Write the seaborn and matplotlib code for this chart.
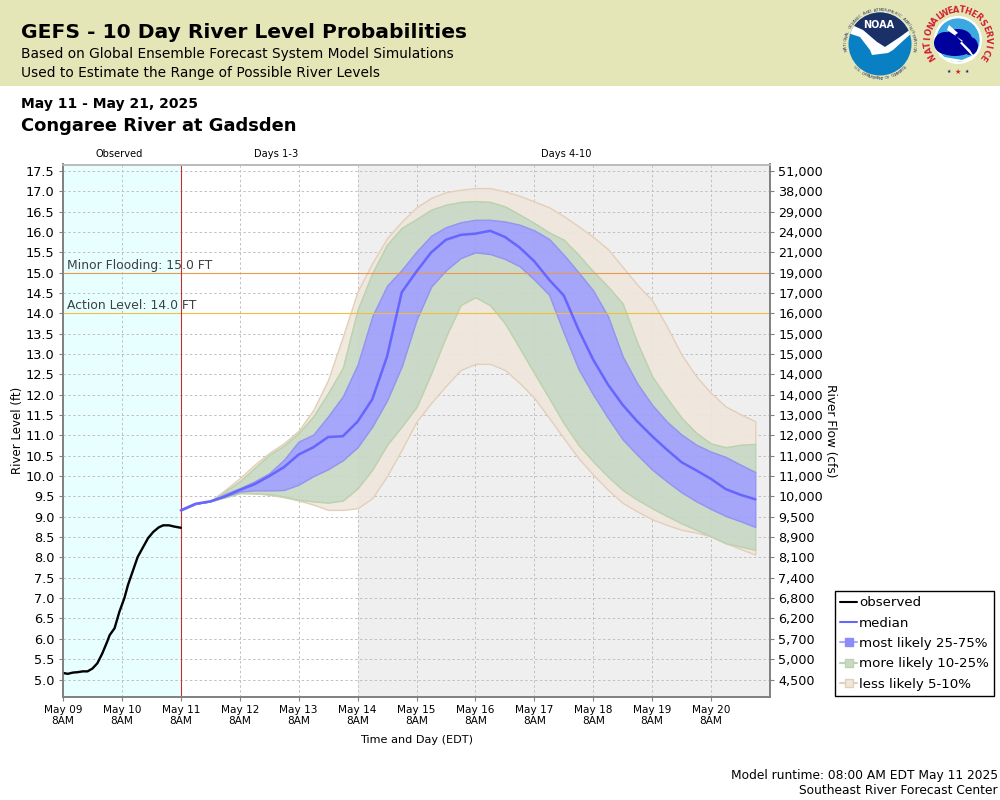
# GEFS river level probability plot - Congaree River at Gadsden

import numpy as np
import pandas as pd
import matplotlib
matplotlib.use('Agg')
import matplotlib.pyplot as plt
from matplotlib.colors import to_rgba
from matplotlib.lines import Line2D
from matplotlib.patches import Circle, Ellipse, Polygon, Rectangle
import seaborn as sns

# observed stage, hours after May 09 8AM
obsHours = [0, 1, 2, 4, 6, 8, 10, 12, 14, 16, 18, 19, 21, 23, 25, 26.5, 28.4, 30.4, 32.4, 34.7, 36.8, 39, 40.8, 43.2,
            45.3, 48]
obsLevel = [5.16, 5.15, 5.14, 5.17, 5.18, 5.20, 5.20, 5.27, 5.40, 5.64, 5.93, 6.09, 6.26, 6.67, 7.00, 7.33, 7.66,
            8.01, 8.23, 8.48, 8.63, 8.74, 8.79, 8.79, 8.76, 8.73]

# forecast stage every 6 hours from May 11 8AM
median = [9.16, 9.32, 9.38, 9.50, 9.66, 9.80, 10.00, 10.22, 10.53, 10.71, 10.96, 10.98, 11.34, 11.89, 12.94, 14.52,
          15.03, 15.50, 15.81, 15.93, 15.96, 16.03, 15.88, 15.62, 15.28, 14.83, 14.44, 13.60, 12.86, 12.25, 11.75,
          11.34, 10.98, 10.65, 10.34, 10.14, 9.93, 9.68, 9.54, 9.43]
p75 = [9.16, 9.32, 9.38, 9.56, 9.70, 9.87, 10.07, 10.40, 10.85, 11.02, 11.47, 11.96, 12.74, 13.93, 14.68, 15.07,
       15.52, 15.91, 16.12, 16.24, 16.30, 16.30, 16.26, 16.18, 16.04, 15.83, 15.44, 15.01, 14.56, 13.93, 12.94,
       12.27, 11.75, 11.34, 11.02, 10.77, 10.60, 10.47, 10.28, 10.10]
p25 = [9.16, 9.32, 9.38, 9.50, 9.62, 9.65, 9.65, 9.66, 9.79, 10.00, 10.17, 10.39, 10.71, 11.22, 11.86, 12.70,
       13.84, 14.66, 15.06, 15.36, 15.50, 15.46, 15.34, 15.16, 14.83, 14.46, 13.52, 12.63, 12.00, 11.43, 10.90,
       10.52, 10.16, 9.87, 9.60, 9.38, 9.19, 9.02, 8.89, 8.75]
p90 = [9.16, 9.32, 9.38, 9.62, 9.87, 10.20, 10.52, 10.75, 11.06, 11.47, 12.04, 12.66, 14.09, 14.99, 15.69, 16.10,
       16.32, 16.55, 16.67, 16.74, 16.76, 16.74, 16.63, 16.43, 16.22, 15.99, 15.81, 15.44, 15.03, 14.66, 14.24,
       13.27, 12.45, 11.92, 11.43, 11.06, 10.80, 10.71, 10.77, 10.79]
p10 = [9.16, 9.32, 9.38, 9.48, 9.58, 9.58, 9.56, 9.50, 9.42, 9.38, 9.35, 9.40, 9.70, 10.16, 10.77, 11.22, 11.70,
       12.53, 13.43, 14.21, 14.40, 14.20, 13.76, 13.15, 12.53, 11.92, 11.30, 10.77, 10.36, 9.99, 9.66, 9.42, 9.21,
       9.02, 8.84, 8.68, 8.52, 8.35, 8.27, 8.19]
p95 = [9.16, 9.32, 9.38, 9.66, 9.95, 10.28, 10.57, 10.81, 11.12, 11.63, 12.37, 13.43, 14.54, 15.24, 15.85, 16.26,
       16.61, 16.84, 16.98, 17.04, 17.08, 17.08, 17.00, 16.89, 16.75, 16.61, 16.39, 16.14, 15.88, 15.58, 15.14,
       14.70, 14.32, 13.68, 12.98, 12.45, 12.04, 11.71, 11.52, 11.35]
p5 = [9.16, 9.32, 9.38, 9.48, 9.60, 9.58, 9.54, 9.48, 9.40, 9.30, 9.17, 9.17, 9.21, 9.46, 10.00, 10.65, 11.34,
      11.80, 12.22, 12.61, 12.76, 12.76, 12.61, 12.29, 11.92, 11.43, 10.93, 10.44, 10.03, 9.66, 9.34, 9.13, 8.94,
      8.80, 8.68, 8.61, 8.52, 8.35, 8.21, 8.07]

# axis labels
stageTicks = [5.0, 5.5, 6.0, 6.5, 7.0, 7.5, 8.0, 8.5, 9.0, 9.5, 10.0, 10.5, 11.0, 11.5, 12.0, 12.5, 13.0, 13.5, 14.0,
              14.5, 15.0, 15.5, 16.0, 16.5, 17.0, 17.5]
flowLabels = ['4,500', '5,000', '5,700', '6,200', '6,800', '7,400', '8,100', '8,900', '9,500', '10,000', '11,000',
              '11,000', '12,000', '13,000', '14,000', '14,000', '15,000', '15,000', '16,000', '17,000', '19,000',
              '21,000', '24,000', '29,000', '38,000', '51,000']
dayLabels = ['May 09', 'May 10', 'May 11', 'May 12', 'May 13', 'May 14', 'May 15', 'May 16', 'May 17', 'May 18',
             'May 19', 'May 20']

obsColor = 'black'
medianColor = '#6666ff'
blueFill, blueEdge = '#9d9dfb', '#9494f4'
greenFill, greenEdge = '#c8d8c4', '#b9d4ae'
tanFill, tanEdge = '#efe7dc', '#e3cfb8'

sns.set_style('white')
plt.rcParams['font.family'] = ['DejaVu Sans']
plt.rcParams['text.color'] = 'black'
plt.rcParams['axes.labelcolor'] = 'black'
plt.rcParams['xtick.color'] = 'black'
plt.rcParams['ytick.color'] = 'black'

start = pd.Timestamp('2025-05-09 08:00')
fcstStart = pd.Timestamp('2025-05-11 08:00')
dfObs = pd.DataFrame({'time': start + pd.to_timedelta(obsHours, unit='h'), 'level': obsLevel})
dfFcst = pd.DataFrame({'time': pd.date_range(fcstStart, periods=len(median), freq='6h'), 'median': median,
                       'p5': p5, 'p10': p10, 'p25': p25, 'p75': p75, 'p90': p90, 'p95': p95})

fig = plt.figure(figsize=(10, 8), dpi=100)
ax = fig.add_axes([63 / 1000, 1 - 697 / 800, 707 / 1000, 532.5 / 800])

# background spans
ax.axvspan(start, fcstStart, color='#e8ffff', lw=0, zorder=0)
ax.axvspan(pd.Timestamp('2025-05-14 08:00'), pd.Timestamp('2025-05-21 08:00'), color='#efefef', lw=0, zorder=0)

# probability bands
bands = [('p90', 'p95', tanFill, tanEdge), ('p5', 'p10', tanFill, tanEdge),
         ('p75', 'p90', greenFill, greenEdge), ('p10', 'p25', greenFill, greenEdge),
         ('p25', 'p75', blueFill, blueEdge)]
for lo, hi, fill, edge in bands:
    ax.fill_between(dfFcst['time'], dfFcst[lo], dfFcst[hi], facecolor=to_rgba(fill, 0.9), edgecolor=edge, linewidth=1,
                    zorder=2)

ax.axhline(15, color='#e89a50', lw=0.8, zorder=2.5)
ax.axhline(14, color='#ecc040', lw=0.8, zorder=2.5)
ax.axvline(fcstStart, color='#c83030', lw=0.8, zorder=2.5)

sns.lineplot(data=dfFcst, x='time', y='median', color=medianColor, linewidth=1.8, ax=ax, zorder=3, legend=False)
sns.lineplot(data=dfObs, x='time', y='level', color=obsColor, linewidth=1.7, ax=ax, zorder=3, legend=False)

ax.set_xlim(start, pd.Timestamp('2025-05-21 08:00'))
ax.set_ylim(4.57, 17.66)
ax.set_xticks(pd.date_range(start, periods=len(dayLabels), freq='D'))
ax.set_xticklabels([d + '\n8AM' for d in dayLabels], fontsize=7.6, linespacing=1.05)
ax.set_yticks(stageTicks)
ax.set_yticklabels(['%.1f' % t for t in stageTicks], fontsize=9.3)
ax.set_xlabel('Time and Day (EDT)', labelpad=7, fontsize=8.1)
ax.set_ylabel('River Level (ft)', labelpad=1, fontsize=8.5)
ax.grid(True, color='#c0c0c0', linewidth=0.7, linestyle=(0, (2.5, 2.5)))
ax.set_axisbelow(True)
ax.tick_params(axis='both', which='major', length=3, width=0.8, color='#808080', pad=3, left=True, bottom=True)

labelX = pd.Timestamp('2025-05-09 09:40')
ax.text(labelX, 15.1, 'Minor Flooding: 15.0 FT', fontsize=8.9, color='#404040', zorder=4)
ax.text(labelX, 14.1, 'Action Level: 14.0 FT', fontsize=8.9, color='#404040', zorder=4)

# right hand flow axis
axR = ax.twinx()
axR.set_ylim(ax.get_ylim())
axR.set_yticks(stageTicks)
axR.set_yticklabels(flowLabels, fontsize=9.2)
axR.set_ylabel('River Flow (cfs)', rotation=270, labelpad=10, fontsize=8.7)
axR.tick_params(axis='y', length=3, width=0.8, color='#808080', pad=3, right=True)
axR.grid(False)

for a in (ax, axR):
    for side, spine in a.spines.items():
        spine.set_color('#bbbbbb' if side == 'top' else '#808080')
        spine.set_linewidth(1.2)

# period labels above the axes
periods = [('Observed', '2025-05-10 07:00'), ('Days 1-3', '2025-05-12 23:00'), ('Days 4-10', '2025-05-17 21:00')]
for label, when in periods:
    ax.text(pd.Timestamp(when), 1.01, label, transform=ax.get_xaxis_transform(), ha='center', va='bottom',
            fontsize=7.1)

# legend
legendHandles = [
    Line2D([], [], color=obsColor, lw=1.5, label='observed'),
    Line2D([], [], color=medianColor, lw=1.5, label='median'),
    Line2D([], [], color='#a9a9fb', lw=1.5, marker='s', ms=5.5, mfc='#8c8cf8', mec='#8c8cf8', label='most likely 25-75%'),
    Line2D([], [], color='#b9d4ae', lw=1.5, marker='s', ms=5.5, mfc='#c8d8c4', mec='#b9d4ae', label='more likely 10-25%'),
    Line2D([], [], color='#e3cfb8', lw=1.5, marker='s', ms=5.5, mfc='#efe7dc', mec='#e3cfb8', label='less likely 5-10%'),
]
fig.legend(handles=legendHandles, loc='upper left', bbox_to_anchor=(835 / 1000, 1 - 591 / 800), borderaxespad=0,
           fontsize=9.6, frameon=True, fancybox=False, framealpha=1, edgecolor='black', handlelength=1.25,
           handletextpad=0.15, labelspacing=0.55, borderpad=0.4)

# header, drawn in pixel coordinates
axTop = fig.add_axes([0, 0, 1, 1], zorder=-1)
axTop.set_xlim(0, 1000)
axTop.set_ylim(800, 0)
axTop.axis('off')
axTop.add_patch(Rectangle((0, 0), 1000, 86, facecolor='#e5e6b8', edgecolor='none'))
axTop.text(21, 33, 'GEFS - 10 Day River Level Probabilities', fontsize=14.6, fontweight='bold', va='center')
axTop.text(21, 54, 'Based on Global Ensemble Forecast System Model Simulations', fontsize=9.9, va='center')
axTop.text(21, 73, 'Used to Estimate the Range of Possible River Levels', fontsize=9.9, va='center')
axTop.text(21, 104, 'May 11 - May 21, 2025', fontsize=10, fontweight='bold', va='center')
axTop.text(21, 126, 'Congaree River at Gadsden', fontsize=12.9, fontweight='bold', va='center')
axTop.text(998, 775, 'Model runtime: 08:00 AM EDT May 11 2025', fontsize=8.8, ha='right', va='center')
axTop.text(998, 791, 'Southeast River Forecast Center', fontsize=8.8, ha='right', va='center')


def ringText(text, cx, cy, r, a0, a1, size, color, weight='normal', bottom=False):
    # one letter at a time round a circle, angles in degrees
    for ch, ang in zip(text, np.linspace(a0, a1, len(text))):
        t = np.deg2rad(ang)
        rot = ang + 90 if bottom else ang - 90
        axTop.text(cx + r * np.cos(t), cy - r * np.sin(t), ch, fontsize=size, color=color, fontweight=weight,
                   rotation=rot, rotation_mode='anchor', ha='center', va='center')


# NOAA logo
nx, ny = 880, 44
blueDisc = Circle((nx, ny), 31.5, facecolor='#0a80c4', edgecolor='none')
axTop.add_patch(blueDisc)
dark = Polygon([(845, 5), (915, 5), (915, 26), (900, 37), (885, 47), (877, 42), (863, 30), (845, 22)],
               facecolor='#1c3068', edgecolor='none')
axTop.add_patch(dark)
dark.set_clip_path(blueDisc)
white = Polygon([(845, 22), (863, 30), (877, 42), (885, 47), (900, 37), (915, 26), (915, 30), (893, 50), (888, 53),
                 (872, 55), (870, 50), (860, 37), (845, 32)], facecolor='white', edgecolor='none')
axTop.add_patch(white)
white.set_clip_path(blueDisc)
axTop.text(879, 25, 'NOAA', fontsize=7, fontweight='bold', color='white', ha='center', va='center')
ringText('NATIONAL OCEANIC AND ATMOSPHERIC ADMINISTRATION', nx, ny, 34, 190, -10, 3.1, '#303860')
ringText('U.S. DEPARTMENT OF COMMERCE', nx, ny, 34.5, 222, 318, 3.1, '#303860', bottom=True)

# NWS logo
wx, wy = 958, 40
axTop.add_patch(Circle((wx, wy), 24, facecolor='white', edgecolor='none'))
axTop.add_patch(Circle((wx, wy), 22, facecolor='#3ca8e0', edgecolor='white', linewidth=0.5))
for ex, ey, ew, eh in [(945, 43, 22, 22), (958, 39, 28, 20), (970, 46, 16, 18), (955, 50, 30, 12)]:
    axTop.add_patch(Ellipse((ex, ey), ew, eh, facecolor='#00009c', edgecolor='none'))
axTop.add_patch(Polygon([(938, 56), (962, 60), (978, 53), (972, 60), (955, 62)], facecolor='white', edgecolor='none'))
axTop.add_patch(Polygon([(949, 25), (958, 33), (955, 35), (970, 50), (976, 60), (960, 43), (963, 41), (947, 30)],
                        facecolor='white', edgecolor='none'))
ringText('NATIONAL', wx, wy, 30, 212, 128, 6, '#d02030', weight='bold')
ringText('WEATHER', wx, wy, 30, 117, 48, 6, '#d02030', weight='bold')
ringText('SERVICE', wx, wy, 30, 35, -35, 6, '#d02030', weight='bold')
axTop.text(958, 72, '★', fontsize=5, color='#d02030', ha='center', va='center')
axTop.text(949, 71, '★', fontsize=3.5, color='#202080', ha='center', va='center')
axTop.text(967, 71, '★', fontsize=3.5, color='#202080', ha='center', va='center')

fig.savefig('out.png', dpi=100)
